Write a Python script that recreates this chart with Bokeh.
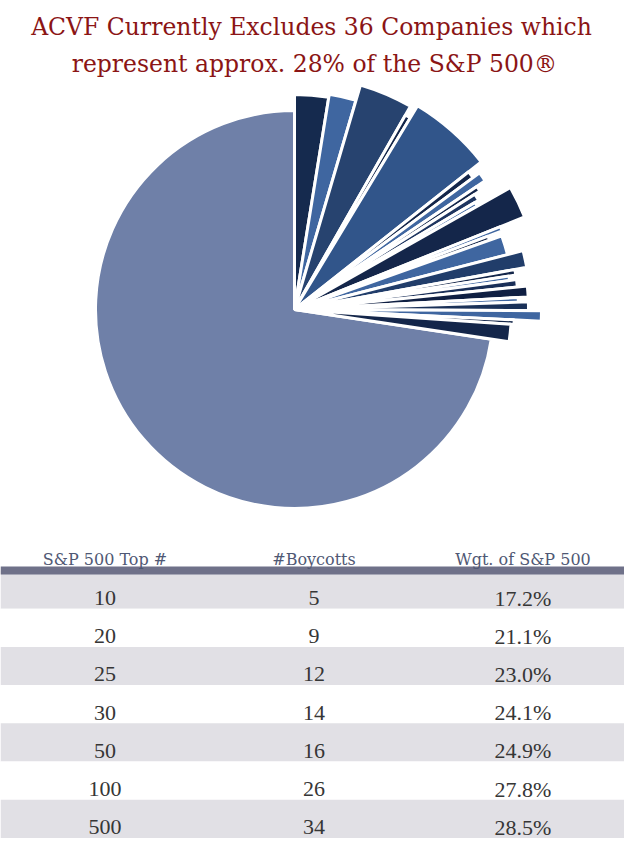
import numpy as np
from bokeh.plotting import figure
from bokeh.models import Range1d, ColumnDataSource
from bokeh.core.properties import value
from bokeh.embed import file_html
from bokeh.resources import INLINE

# ---------------- data ----------------
title_lines = ["ACVF Currently Excludes 36 Companies which",
               "represent approx. 28% of the S&P 500\u00ae"]

# excluded companies: weight in % of S&P 500, clockwise from 12 o'clock
excluded_weight = [2.55, 2.0, 3.7, 0.4, 5.7, 0.53, 0.67, 0.4, 0.53, 0.33,
                   2.1, 0.33, 0.33, 1.42, 1.15, 0.4, 0.33, 0.53, 0.75, 0.33,
                   0.6, 0.67, 0.33, 1.3]
excluded_color = ["#152a4e", "#3f66a0", "#27436f", "#14264a", "#31558a",
                  "#14264a", "#3f66a0", "#14264a", "#1e3560", "#3f66a0",
                  "#14264a", "#3f66a0", "#14264a", "#3f66a0", "#213d6a",
                  "#14264a", "#3f66a0", "#1a2f58", "#0f1f42", "#3f66a0",
                  "#1a3158", "#3f66a0", "#14264a", "#14264a"]
excluded_radius = [215, 218, 234, 224, 238, 222, 230, 220, 214, 210,
                   248, 222, 207, 220, 236, 224, 217, 224, 234, 224,
                   234, 247, 220, 217]
rest_color = "#6f80a8"
rest_radius = 199

table_header = ["S&P 500 Top #", "#Boycotts", "Wgt. of S&P 500"]
top_n = [10, 20, 25, 30, 50, 100, 500]
boycotts = [5, 9, 12, 14, 16, 26, 34]
weight_pct = [17.2, 21.1, 23.0, 24.1, 24.9, 27.8, 28.5]

# ---------------- layout ----------------
W, H = 624, 842


def Y(ref_y):
    return H - np.asarray(ref_y, dtype=float)


p = figure(width=W, height=H, output_backend="svg", toolbar_location=None,
           x_range=Range1d(0, W), y_range=Range1d(0, H),
           min_border=0, background_fill_color="white", border_fill_color="white")
p.axis.visible = False
p.grid.visible = False
p.outline_line_color = None

# ---------------- title ----------------
title_color = "#8b1515"
p.text(x=[311, 314], y=[Y(26), Y(63)], text=title_lines,
       text_font=value("DejaVu Serif"), text_font_size="23.5px",
       text_color=title_color, text_align="center", text_baseline="alphabetic")

# ---------------- pie ----------------
cx, cy = 294, float(Y(309))
cum = np.concatenate([[0.0], np.cumsum(excluded_weight)])
deg = 3.6
start = np.radians(90 - cum[1:] * deg)
end = np.radians(90 - cum[:-1] * deg)
total_excl = cum[-1]

p.wedge(x=cx, y=cy, radius=rest_radius, start_angle=np.radians(90),
        end_angle=np.radians(450 - total_excl * deg), direction="anticlock",
        fill_color=rest_color, line_color="white", line_width=3)

src = ColumnDataSource(dict(start=start, end=end, r=excluded_radius, c=excluded_color))
p.wedge(x=cx, y=cy, radius="r", start_angle="start", end_angle="end",
        direction="anticlock", fill_color="c", line_color="white",
        line_width=3, source=src)

# ---------------- table ----------------
table_right = 627
row_top0 = 570
row_h = 38.2
n = len(top_n)
tops = np.array([row_top0 + i * row_h for i in range(n)])
bottoms = tops + row_h
row_fill = ["#e1e0e5" if i % 2 == 0 else "white" for i in range(n)]
p.quad(left=0, right=table_right, top=Y(tops), bottom=Y(bottoms),
       fill_color=row_fill, line_color=None)

# header bar
p.quad(left=0, right=table_right, top=Y(566), bottom=Y(574),
       fill_color="#6f7189", line_color=None)

col_x = [table_right / 6 * k for k in (1, 3, 5)]
p.text(x=col_x, y=[float(Y(559))] * 3, text=table_header,
       text_font=value("DejaVu Serif"), text_font_size="16px",
       text_color="#4f5874", text_align="center", text_baseline="alphabetic")

cells_x, cells_y, cells_t = [], [], []
for i in range(n):
    row_vals = [str(top_n[i]), str(boycotts[i]), f"{weight_pct[i]:.1f}%"]
    for j in range(3):
        cells_x.append(col_x[j])
        cells_y.append(float(Y(tops[i] + 27.5)))
        cells_t.append(row_vals[j])
p.text(x=cells_x, y=cells_y, text=cells_t,
       text_font=value("Liberation Serif"), text_font_size="22px",
       text_color="#363636", text_align="center", text_baseline="alphabetic")

open("out.html", "w").write(file_html(p, INLINE))
